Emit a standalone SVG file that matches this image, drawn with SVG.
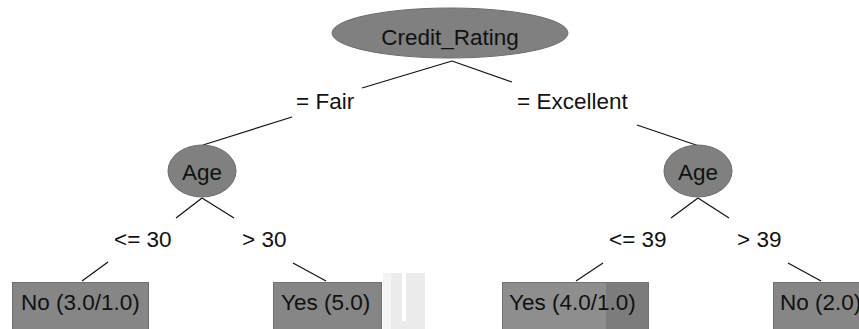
<svg xmlns="http://www.w3.org/2000/svg" width="859" height="329" viewBox="0 0 859 329">
<style>
.t{font-family:"Liberation Sans",Arial,sans-serif;font-size:22.5px;fill:#111}
.n{fill:#808080;stroke:#6e6e6e;stroke-width:1}
.l{fill:#868686;stroke:#707070;stroke-width:1}
.c{stroke:#111;stroke-width:1.2;fill:none}
</style>
<rect width="859" height="329" fill="#fff"/>
<g id="connectors">
<line class="c" x1="452" y1="61" x2="362" y2="88"/>
<line class="c" x1="292" y1="117" x2="203" y2="145"/>
<line class="c" x1="452" y1="61" x2="512" y2="82"/>
<line class="c" x1="637" y1="125" x2="699" y2="146"/>
<line class="c" x1="202" y1="198" x2="176" y2="218"/>
<line class="c" x1="202" y1="198" x2="234" y2="218"/>
<line class="c" x1="108" y1="262" x2="82" y2="281"/>
<line class="c" x1="293" y1="263" x2="326" y2="281"/>
<line class="c" x1="698" y1="198" x2="671" y2="218"/>
<line class="c" x1="698" y1="198" x2="729" y2="218"/>
<line class="c" x1="603" y1="263" x2="576" y2="281"/>
<line class="c" x1="788" y1="263" x2="821" y2="281"/>
<text class="t" x="296" y="109">= Fair</text>
<text class="t" x="517" y="109">= Excellent</text>
<text class="t" x="114" y="247">&lt;= 30</text>
<text class="t" x="242" y="247">&gt; 30</text>
<text class="t" x="609" y="247">&lt;= 39</text>
<text class="t" x="737" y="247">&gt; 39</text>
</g>
<g id="root">
<ellipse class="n" cx="450" cy="33" rx="118" ry="25"/>
<text class="t" x="450" y="45" text-anchor="middle">Credit_Rating</text>
</g>
<g id="age-left">
<ellipse class="n" cx="202" cy="171" rx="34" ry="26"/>
<text class="t" x="202" y="180" text-anchor="middle">Age</text>
</g>
<g id="age-right">
<ellipse class="n" cx="698" cy="171" rx="34" ry="26"/>
<text class="t" x="698" y="180" text-anchor="middle">Age</text>
</g>
<g id="leaf-no-3">
<rect class="l" x="12.5" y="282.5" width="136" height="50" fill="#7f7f7f"/>
<text class="t" x="21" y="310">No (3.0/1.0)</text>
</g>
<g id="leaf-yes-5">
<rect class="l" x="273.5" y="282.5" width="108" height="50" fill="#8d8d8d"/>
<text class="t" x="281" y="310">Yes (5.0)</text>
</g>
<g id="artifact">
<rect x="383" y="273" width="42" height="60" fill="#ececec"/>
<rect x="383" y="273" width="8" height="60" fill="#f4f4f4"/>
<rect x="402" y="273" width="4" height="48" fill="#fff"/>
</g>
<g id="leaf-yes-4">
<rect x="502.5" y="282.5" width="146" height="50" fill="#8e8e8e" stroke="#737373"/>
<rect x="606" y="283" width="42" height="49" fill="#7c7c7c"/>
<text class="t" x="509" y="310">Yes (4.0/1.0)</text>
</g>
<g id="leaf-no-2">
<rect class="l" x="773.5" y="282.5" width="100" height="50" fill="#808080"/>
<text class="t" x="780" y="310">No (2.0)</text>
</g>
</svg>
